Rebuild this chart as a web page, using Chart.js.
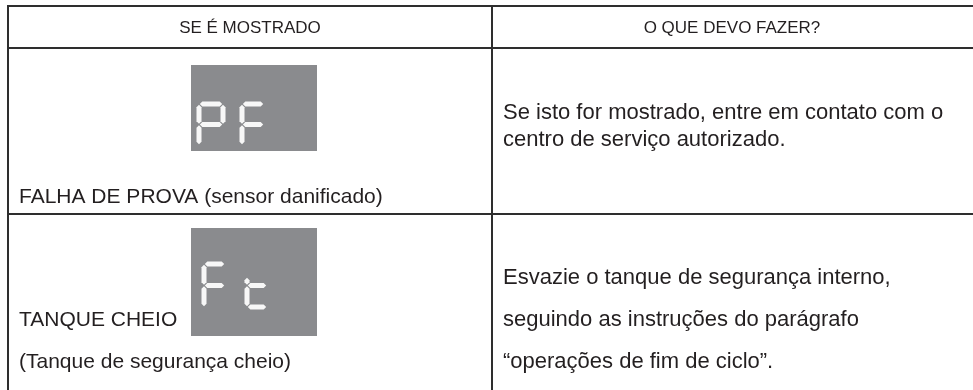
<!DOCTYPE html>
<html><head><meta charset="utf-8">
<script src="https://cdn.jsdelivr.net/npm/chart.js@4/dist/chart.umd.min.js"></script>
<style>html,body{margin:0;padding:0;background:#fff;overflow:hidden}canvas{display:block}</style>
</head><body>
<canvas id="c" width="973" height="390"></canvas>
<script>
// ---- content ----
const headers = ["SE É MOSTRADO", "O QUE DEVO FAZER?"];
const displayCodes = ["PF", "Ft"];
const shownLines = [
  ["FALHA DE PROVA (sensor danificado)"],
  ["TANQUE CHEIO", "(Tanque de segurança cheio)"]
];
const actionLines = [
  ["Se isto for mostrado, entre em contato com o", "centro de serviço autorizado."],
  ["Esvazie o tanque de segurança interno,", "seguindo as instruções do parágrafo", "“operações de fim de ciclo”."]
];
// seven-segment patterns
const segMap = { P: ["a","b","f","g","e"], F: ["a","f","g","e"], t: ["ft","g","e","d"] };

const ink = "#231f20", lineCol = "#2e2e2e", lcdBg = "#8a8b8e", lcdSeg = "#f7f7f7";
const leftFont = "21px 'Liberation Sans', Arial, sans-serif";
const rightFont = "22px 'Liberation Sans', Arial, sans-serif";
const headFont = "17px 'Liberation Sans', Arial, sans-serif";

function hSeg(ctx, x1, x2, y, t, g) {
  ctx.beginPath();
  ctx.moveTo(x1 + g, y);
  ctx.lineTo(x1 + g + t/2, y - t/2);
  ctx.lineTo(x2 - g - t/2, y - t/2);
  ctx.lineTo(x2 - g, y);
  ctx.lineTo(x2 - g - t/2, y + t/2);
  ctx.lineTo(x1 + g + t/2, y + t/2);
  ctx.closePath(); ctx.fill();
}
function vSeg(ctx, x, y1, y2, t, g) {
  ctx.beginPath();
  ctx.moveTo(x, y1 + g);
  ctx.lineTo(x + t/2, y1 + g + t/2);
  ctx.lineTo(x + t/2, y2 - g - t/2);
  ctx.lineTo(x, y2 - g);
  ctx.lineTo(x - t/2, y2 - g - t/2);
  ctx.lineTo(x - t/2, y1 + g + t/2);
  ctx.closePath(); ctx.fill();
}
function digit(ctx, ch, x0, y0, w, h) {
  const t = 5, g = 0.8, m = y0 + h/2;
  for (const s of segMap[ch]) {
    if (s === "a") hSeg(ctx, x0, x0 + w, y0, t, g);
    if (s === "d") hSeg(ctx, x0, x0 + w, y0 + h, t, g);
    if (s === "g") hSeg(ctx, x0, x0 + w, m, t, g);
    if (s === "f") vSeg(ctx, x0, y0, m, t, g);
    if (s === "ft") vSeg(ctx, x0, m - h*0.2, m, t, g);
    if (s === "e") vSeg(ctx, x0, m, y0 + h, t, g);
    if (s === "b") vSeg(ctx, x0 + w, y0, m, t, g);
    if (s === "c") vSeg(ctx, x0 + w, m, y0 + h, t, g);
  }
}

const tablePlugin = {
  id: "table",
  afterDraw(chart) {
    const ctx = chart.ctx, X = chart.scales.x, Y = chart.scales.y;
    const px = v => X.getPixelForValue(v), py = v => Y.getPixelForValue(v);
    ctx.save();
    // grid lines
    ctx.strokeStyle = lineCol; ctx.lineWidth = 2;
    const hl = [6, 48, 214];
    ctx.beginPath();
    for (const y of hl) { ctx.moveTo(px(7), py(y)); ctx.lineTo(px(973), py(y)); }
    ctx.moveTo(px(8), py(5)); ctx.lineTo(px(8), py(390));
    ctx.moveTo(px(492), py(5)); ctx.lineTo(px(492), py(390));
    ctx.stroke();
    // headers
    ctx.fillStyle = ink; ctx.font = headFont;
    ctx.textBaseline = "middle"; ctx.textAlign = "center";
    ctx.fillText(headers[0], px(250), py(28));
    ctx.fillText(headers[1], px(732), py(28));
    // LCD boxes
    const boxes = [[191, 65, 126, 86], [191, 228, 126, 108]];
    const digits = [
      [[199, 104, 24, 41], [242, 104, 22, 41]],
      [[204, 264, 21, 43], [247, 264, 20, 43]]
    ];
    displayCodes.forEach((code, i) => {
      const b = boxes[i];
      ctx.fillStyle = lcdBg;
      ctx.fillRect(px(b[0]), py(b[1]), px(b[0]+b[2]) - px(b[0]), py(b[1]+b[3]) - py(b[1]));
      ctx.fillStyle = lcdSeg;
      [...code].forEach((ch, k) => { const d = digits[i][k]; digit(ctx, ch, px(d[0]), py(d[1]), d[2], d[3]); });
    });
    // body text
    ctx.fillStyle = ink; ctx.textAlign = "left";
    ctx.font = leftFont;
    const shownY = [[197], [320, 362]];
    shownLines.forEach((lines, i) => lines.forEach((s, k) => ctx.fillText(s, px(19), py(shownY[i][k]))));
    ctx.font = rightFont;
    const actY = [[113, 140], [278, 320, 362]];
    actionLines.forEach((lines, i) => lines.forEach((s, k) => ctx.fillText(s, px(503), py(actY[i][k]))));
    ctx.restore();
  }
};

new Chart(document.getElementById("c"), {
  type: "scatter",
  data: { datasets: [{ data: [], pointRadius: 0 }] },
  options: {
    responsive: false, animation: false,
    layout: { padding: 0 },
    plugins: { legend: { display: false }, tooltip: { enabled: false } },
    scales: {
      x: { type: "linear", min: 0, max: 973, display: false },
      y: { type: "linear", min: 0, max: 390, reverse: true, display: false }
    }
  },
  plugins: [tablePlugin]
});
</script>
</body></html>
